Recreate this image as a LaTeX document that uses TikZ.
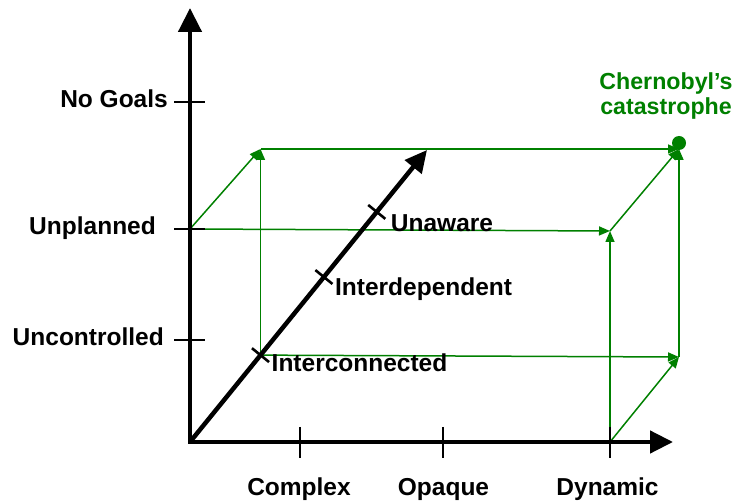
\documentclass[tikz,border=0pt]{standalone}
\usepackage{fontspec}
\setmainfont{Liberation Sans}
\usetikzlibrary{calc,arrows.meta,positioning}
\definecolor{myGreen}{RGB}{0,128,0}
\tikzset{
myAxis/.style={
	line width=4.5pt, draw=black
}
, myTick/.style={line width=2.6pt, draw=black}
, myLabel/.style={
	inner sep=0pt, text=black,
	font=\fontsize{24.5}{28}\selectfont\bfseries
}
, myNote/.style={
	inner sep=0pt, text=myGreen, align=center,
	font=\fontsize{23.2}{25}\selectfont\bfseries
}
, myDot/.style={
	circle, fill=myGreen, inner sep=0pt, minimum size=14pt
}
% links
, myEdge/.style={-{Triangle[length=11pt,width=9pt]},color=myGreen,line width=1.5pt}
}

\begin{document}
\begin{tikzpicture}[x=1pt,y=-1pt]
	\useasboundingbox (0,0) rectangle (739,502);
	% axis points
	\coordinate (O) at (190,442);
	\coordinate (TopY) at (190,8);
	\coordinate (TopX) at (673,442);
	\coordinate (TopZ) at (427,150);
	\coordinate (Iconn) at ($(O)!0.2975!(TopZ)$);
	\coordinate (Idep) at ($(O)!0.565!(TopZ)$);
	\coordinate (Unaw) at ($(O)!0.788!(TopZ)$);
	% cube corners
	\coordinate (U) at (190,229);
	\coordinate (C) at (679,149);
	\coordinate (A) at (Iconn |- C);
	\coordinate (B) at (610,231);
	\coordinate (D) at (610,442);
	\coordinate (E) at (679,357);

	% links
	\draw [myEdge] (U) -- (A);
	\draw [myEdge] (U) -- (B);
	\draw [myEdge] (Iconn) -- (A);
	\draw [myEdge] (Iconn) -- (E);
	\draw [myEdge] (A) -- (C);
	\draw [myEdge] (D) -- (B);
	\draw [myEdge] (D) -- (E);
	\draw [myEdge] (B) -- (C);
	\draw [myEdge] (E) -- (C);
	\node[myDot] (Dot) at (679,143) {};
	\node[myNote, anchor=north] (Chernobyl) at (666,72) {Chernobyl’s\\catastrophe};

	% axes
	\draw [myAxis,{Triangle[length=24pt,width=23pt]}-{Triangle[length=23pt,width=22pt]}] (TopY) -- (O) -- (TopX);
	\draw [myAxis,-{Triangle[length=22pt,width=21pt]}] (O) -- (TopZ);
	% ticks
	\draw [myTick] (174,102) -- (205,102);
	\draw [myTick] (174,229) -- (205,229);
	\draw [myTick] (174,340) -- (205,340);
	\draw [myTick] (300,427) -- (300,458);
	\draw [myTick] (443,427) -- (443,458);
	\draw [myTick] (D) ++(0,-15) -- ++(0,31);
	\draw [myTick] ($(Iconn)!11pt!90:(TopZ)$) -- ($(Iconn)!11pt!-90:(TopZ)$);
	\draw [myTick] ($(Idep)!11pt!90:(TopZ)$) -- ($(Idep)!11pt!-90:(TopZ)$);
	\draw [myTick] ($(Unaw)!11pt!90:(TopZ)$) -- ($(Unaw)!11pt!-90:(TopZ)$);

	% labels
	\node[myLabel, anchor=base east] (NoGoals) at (168,108) {No Goals};
	\node[myLabel, anchor=base east] (Unplanned) at (156,235) {Unplanned};
	\node[myLabel, anchor=base east] (Uncontrolled) at (164,346) {Uncontrolled};
	\node[myLabel, anchor=base] (Complex) at (299,495) {Complex};
	\node[myLabel, anchor=base] (Opaque) at (443.5,495) {Opaque};
	\node[myLabel, anchor=base] (Dynamic) at (607.5,495) {Dynamic};
	\node[myLabel, anchor=base west] (Unaware) at ($(Unaw)+(14,20)$) {Unaware};
	\node[myLabel, anchor=base west] (Interdependent) at ($(Idep)+(11,18)$) {Interdependent};
	\node[myLabel, anchor=base west] (Interconnected) at ($(Iconn)+(11,16)$) {Interconnected};
\end{tikzpicture}
\end{document}
